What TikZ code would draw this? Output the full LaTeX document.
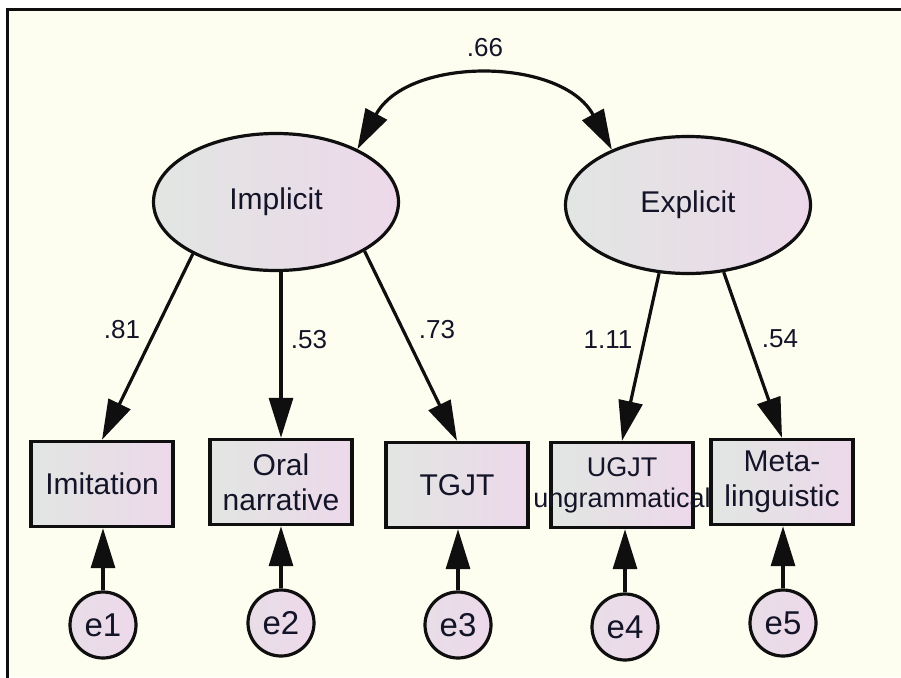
\documentclass[tikz,border=0pt]{standalone}
\usepackage{fontspec}
\setmainfont{Liberation Sans}
\usetikzlibrary{shapes.geometric,arrows.meta}
\definecolor{bgc}{RGB}{253,254,240}
\definecolor{gl}{RGB}{225,230,226}
\definecolor{pr}{RGB}{237,216,234}
\definecolor{txt}{RGB}{20,20,40}
\definecolor{edgec}{RGB}{15,15,15}
\tikzset{
 latent/.style={ellipse, draw=edgec, line width=3.2pt, left color=gl, right color=pr, minimum width=245pt, minimum height=137pt, inner sep=0pt, text=txt, font=\fontsize{30}{35}\selectfont},
 obs/.style={rectangle, draw=edgec, line width=3.4pt, left color=gl, right color=pr, minimum width=142pt, minimum height=85pt, inner sep=0pt, align=center, text=txt, font=\fontsize{30}{35}\selectfont},
 err/.style={circle, draw=edgec, line width=3.2pt, left color=gl!40!pr, right color=pr, minimum size=66pt, inner sep=0pt, text=txt, font=\fontsize{33}{36}\selectfont},
 loadarrow/.style={draw=edgec, line width=3.2pt, -{Triangle[length=40pt,width=24pt]}},
 covarrow/.style={draw=edgec, line width=3.2pt, {Triangle[length=40pt,width=24pt]}-{Triangle[length=40pt,width=24pt]}},
 coef/.style={text=txt, font=\fontsize{26}{30}\selectfont, inner sep=0pt},
}
\begin{document}
\begin{tikzpicture}[x=1pt,y=-1pt]
\useasboundingbox (0,0) rectangle (901,677);
\fill[white] (0,0) rectangle (901,677);
\fill[bgc] (7,10) rectangle (901,677);
\draw[line width=3pt, edgec] (7,690) -- (7,10) -- (915,10);

% latent variables
\node[latent] (imp) at (276,202) {Implicit};
\node[latent] (exp) at (688,205) {Explicit};

% observed
\node[obs] (imit) at (102,484) {Imitation};
\node[obs] (oral) at (281,482) {Oral\\narrative};
\node[obs] (tgjt) at (457,485) {TGJT};
\node[obs, font=\fontsize{27}{31}\selectfont] (ugjt) at (622,485) {UGJT\\\makebox[0pt]{ungrammatical}};
\node[obs] (meta) at (782,482) {Meta-\\linguistic};

% errors
\node[err] (e1) at (103,625) {e1};
\node[err] (e2) at (281,623) {e2};
\node[err] (e3) at (458,625) {e3};
\node[err] (e4) at (625,627) {e4};
\node[err] (e5) at (783,623) {e5};

% covariance
\draw[covarrow] (imp.33) .. controls +(50,-93) and +(-50,-93) .. (exp.144);
\node[coef] (c66) at (485,48) {.66};

% loadings
\draw[loadarrow] (imp.212) -- (imit.north);
\draw[loadarrow] (oral.north |- imp.south) -- (oral.north);
\draw[loadarrow] (imp.-29) -- (tgjt.north);
\draw[loadarrow] (exp.247) -- (ugjt.north);
\draw[loadarrow] (exp.-62) -- (meta.north);

\node[coef] (c81) at (122,330) {.81};
\node[coef] (c53) at (309,340) {.53};
\node[coef] (c73) at (437,330) {.73};
\node[coef] (c111) at (608,340) {1.11};
\node[coef] (c54) at (780,339) {.54};

% error arrows
\draw[loadarrow] (e1) -- (e1 |- imit.south);
\draw[loadarrow] (e2) -- (e2 |- oral.south);
\draw[loadarrow] (e3) -- (e3 |- tgjt.south);
\draw[loadarrow] (e4) -- (e4 |- ugjt.south);
\draw[loadarrow] (e5) -- (e5 |- meta.south);
\end{tikzpicture}
\end{document}
